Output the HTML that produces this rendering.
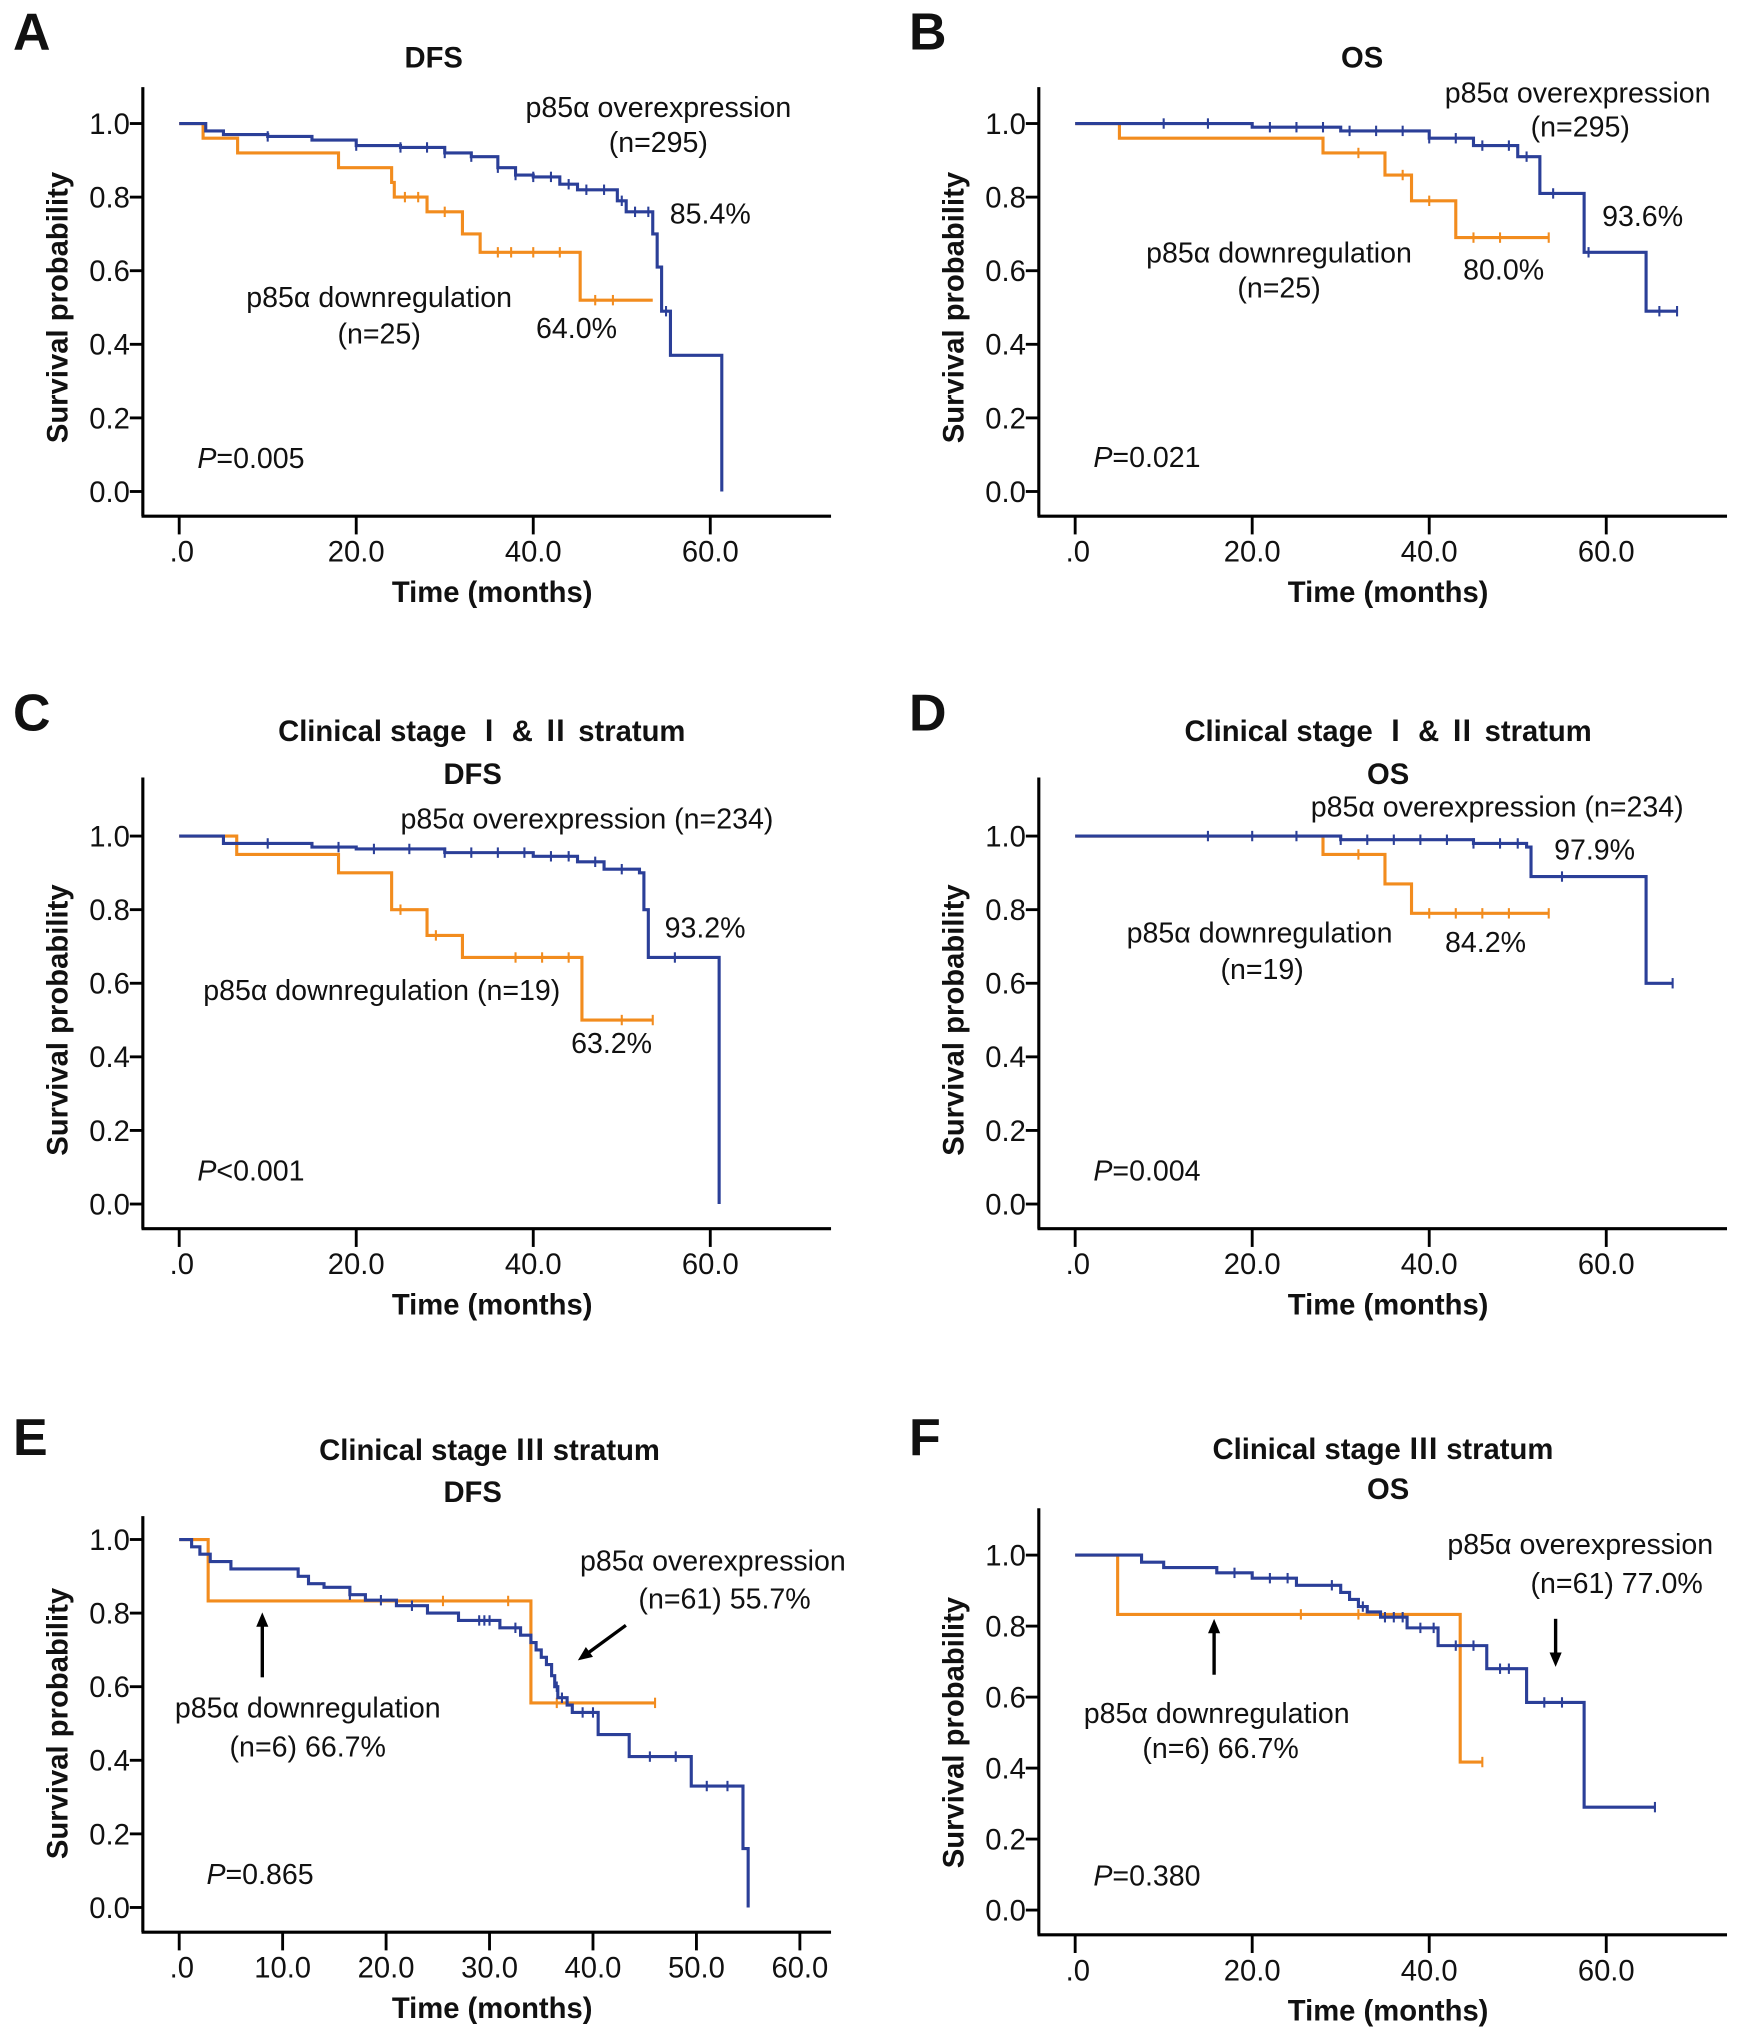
<!DOCTYPE html>
<html><head><meta charset="utf-8"><style>
html,body{margin:0;padding:0;background:#fff}
svg{display:block}
text{font-family:"Liberation Sans","Noto Sans CJK SC",sans-serif;fill:#111}
</style></head><body>
<svg id="fig" width="1740" height="2031" viewBox="0 0 1340 1562" preserveAspectRatio="none" xmlns="http://www.w3.org/2000/svg"></svg>
<script>
// ---- data: step curves [time, survival] ----
const aBlueT=[0,3,5,10,15,20,25,30,33,36,38,40,43,45,49.5,50.5,53.5,54,54.5,55.5,56,61.3];
const aBlueS=[1,0.98,0.97,0.965,0.955,0.94,0.935,0.92,0.91,0.88,0.86,0.855,0.835,0.82,0.79,0.76,0.70,0.61,0.49,0.37,0.37,0];
const aBlueCens=[10,20,25,28,30,33,36,38,40,42,44,46,48,50,51.5,53,55];
const aOrgT=[0,2.7,6.6,18,24,24.3,28,32,34,45.3,53.5];
const aOrgS=[1,0.96,0.92,0.88,0.84,0.80,0.76,0.70,0.65,0.52,0.52];
const aOrgCens=[25.5,27,30,36,37.5,40,43,47,49];

const bBlueT=[0,20,30,40,45,50,52.5,57.5,64.5,68];
const bBlueS=[1,0.99,0.98,0.96,0.94,0.91,0.81,0.65,0.49,0.49];
const bBlueCens=[10,15,22,25,28,31,34,37,40,43,46,49,51,54,58,66,68];
const bOrgT=[0,5,28,35,38,43,53.5];
const bOrgS=[1,0.96,0.92,0.86,0.79,0.69,0.69];
const bOrgCens=[32,37,40,45,48,53.5];

const cBlueT=[0,5,15,20,30,40,45,48,52,52.5,53,61];
const cBlueS=[1,0.98,0.97,0.965,0.955,0.945,0.93,0.91,0.90,0.80,0.67,0];
const cBlueCens=[10,18,22,26,30,33,36,39,42,44,47,50,56];
const cOrgT=[0,6.5,18,24,28,32,45.5,53.5];
const cOrgS=[1,0.95,0.90,0.80,0.73,0.67,0.50,0.50];
const cOrgCens=[25,29,38,41,44,50,53.5];

const dBlueT=[0,30,45,51,51.5,64.5,67.5];
const dBlueS=[1,0.99,0.98,0.97,0.89,0.60,0.60];
const dBlueCens=[15,20,25,30,33,36,39,42,45,48,50,55,67.5];
const dOrgT=[0,28,35,38,53.5];
const dOrgS=[1,0.95,0.87,0.79,0.79];
const dOrgCens=[32,40,43,46,49,53.5];

const eBlueT=[0,1.2,2,3,5,11.5,12.5,14,16.5,18,21,24,27,31,33,34,34.5,35,35.5,36,36.3,36.6,37.5,38,40.5,43.5,49.5,54.5,55];
const eBlueS=[1,0.98,0.96,0.94,0.92,0.90,0.88,0.87,0.85,0.835,0.82,0.80,0.78,0.76,0.74,0.72,0.70,0.68,0.66,0.63,0.60,0.57,0.55,0.53,0.47,0.41,0.33,0.16,0];
const eBlueCens=[16.5,19.5,22.5,29,29.5,30,32.5,36.5,37,39,40,45.5,48,51,53];
const eOrgT=[0,2.8,34,46];
const eOrgS=[1,0.833,0.556,0.556];
const eOrgCens=[25.5,31.8,36.5,46];

const fBlueT=[0,7.5,10,16,20,25,30,31,32,33,34.5,37.5,41,46.5,51,57.5,65.5];
const fBlueS=[1,0.98,0.965,0.95,0.935,0.915,0.895,0.875,0.855,0.84,0.825,0.795,0.745,0.68,0.585,0.29,0.29];
const fBlueCens=[18,22,24,29,32.5,35,36,37,39,40.5,43,45,48,49,53,55,65.5];
const fOrgT=[0,4.8,43.5,46];
const fOrgS=[1,0.833,0.417,0.417];
const fOrgCens=[25.5,32,46];

const yTicks=[0,0.2,0.4,0.6,0.8,1.0];
const yTickLabels=["0.0","0.2","0.4","0.6","0.8","1.0"];
const xTicks6=[0,20,40,60];
const xTickLabels6=[".0","20.0","40.0","60.0"];
const xTicks10=[0,10,20,30,40,50,60];
const xTickLabels10=[".0","10.0","20.0","30.0","40.0","50.0","60.0"];

const NS="http://www.w3.org/2000/svg";
const svg=document.getElementById('fig');
function mk(tag,attrs,parent,txt){const e=document.createElementNS(NS,tag);for(const k in attrs)e.setAttribute(k,attrs[k]);if(txt!==undefined)e.textContent=txt;(parent||svg).appendChild(e);return e;}
const BLUE="#2b3f98",ORG="#f28c1e";

function panel(p){
  const g=mk('g',{});
  
  
  const xs=t=>p.x0+(t/60)*(p.x60-p.x0);
  const ys=s=>p.y0+(p.y1-p.y0)*s;
  const ya=mk('line',{x1:p.ax,y1:p.yTop,x2:p.ax,y2:p.xAxisY,stroke:'#000','stroke-width':2.4},g);
  
  const xa=mk('line',{x1:p.ax-1,y1:p.xAxisY,x2:p.xEnd,y2:p.xAxisY,stroke:'#000','stroke-width':2.4},g);
  
  yTicks.forEach((v,i)=>{
    mk('line',{x1:p.ax-10,y1:ys(v),x2:p.ax,y2:ys(v),stroke:'#000','stroke-width':2.2},g);
    const t=mk('text',{x:p.ax-10,y:ys(v)+8,'text-anchor':'end','font-size':22.5},g,yTickLabels[i]);
    
  });
  p.xt.forEach((v,i)=>{
    mk('line',{x1:xs(v),y1:p.xAxisY,x2:xs(v),y2:p.xAxisY+14,stroke:'#000','stroke-width':2.2},g);
    const t=mk('text',{x:xs(v)+(i==0?2:0),y:p.xAxisY+35,'text-anchor':'middle','font-size':22.5},g,p.xl[i]);
    
  });
  const xt=mk('text',{x:(p.ax+p.xEnd)/2+4,y:p.xAxisY+66,'text-anchor':'middle','font-size':22.5,'font-weight':'bold'},g,'Time (months)');
  
  const cy=(p.y0+p.y1)/2;
  const yt=mk('text',{x:p.ax-58,y:cy,'text-anchor':'middle','font-size':22.5,'font-weight':'bold',transform:`rotate(-90 ${p.ax-58} ${cy})`},g,'Survival probability');
  
  const L=mk('text',{x:p.ax-100,y:p.letterY,'font-size':40,'font-weight':'bold'},g,p.id);
  
  p.titles.forEach(tt=>{
    const e=mk('text',{x:tt[0],y:tt[1],'text-anchor':'middle','font-size':22.5,'font-weight':'bold'},g,tt[2]);
    
  });
  [[p.oT,p.oS,p.oC,ORG,'downregulation-curve'],[p.bT,p.bS,p.bC,BLUE,'overexpression-curve']].forEach(c=>{
    const T=c[0],S=c[1];
    let d=`M${xs(T[0])},${ys(S[0])}`;
    for(let i=1;i<T.length;i++){d+=` H${xs(T[i])} V${ys(S[i])}`;}
    const path=mk('path',{d:d,fill:'none',stroke:c[3],'stroke-width':2.4},g);
    
    const sAt=t=>{let s=S[0];for(let i=0;i<T.length;i++){if(T[i]<=t)s=S[i];}return s;};
    c[2].forEach(t=>{
      const m=mk('line',{x1:xs(t),x2:xs(t),y1:ys(sAt(t))-4,y2:ys(sAt(t))+4,stroke:c[3],'stroke-width':1.6},g);
      
    });
  });
  p.notes.forEach(n=>{
    const e=mk('text',{x:n[0],y:n[1],'text-anchor':n[3]||'middle','font-size':22},g);
    if(n[2].startsWith('P')){mk('tspan',{'font-style':'italic'},e,'P');mk('tspan',{},e,n[2].slice(1));}
    else e.textContent=n[2];
    
  });
  (p.arrows||[]).forEach(a=>{
    const [x1,y1,x2,y2]=a;
    const ang=Math.atan2(y2-y1,x2-x1),h=12,w=0.4;
    const ar=mk('g',{},g);
    
    mk('line',{x1,y1,x2:x2-Math.cos(ang)*6,y2:y2-Math.sin(ang)*6,stroke:'#000','stroke-width':2.6},ar);
    mk('polygon',{points:`${x2},${y2} ${x2-h*Math.cos(ang-w)},${y2-h*Math.sin(ang-w)} ${x2-h*Math.cos(ang+w)},${y2-h*Math.sin(ang+w)}`,fill:'#000'},ar);
  });
}

const L={ax:110,x0:138,x60:547,xEnd:640};
const R={ax:800,x0:828,x60:1237,xEnd:1330};
panel({id:'A',...L,yTop:67,y1:95,y0:378,xAxisY:397,letterY:38,xt:xTicks6,xl:xTickLabels6,
 titles:[[334,52,'DFS']],bT:aBlueT,bS:aBlueS,bC:aBlueCens,oT:aOrgT,oS:aOrgS,oC:aOrgCens,
 notes:[[507,90,'p85α overexpression'],[507,117,'(n=295)'],[547,172,'85.4%'],[292,236,'p85α downregulation'],[292,264,'(n=25)'],[444,260,'64.0%'],[152,360,'P=0.005','start']]});
panel({id:'B',...R,yTop:67,y1:95,y0:378,xAxisY:397,letterY:38,xt:xTicks6,xl:xTickLabels6,
 titles:[[1049,52,'OS']],bT:bBlueT,bS:bBlueS,bC:bBlueCens,oT:bOrgT,oS:bOrgS,oC:bOrgCens,
 notes:[[1215,79,'p85α overexpression'],[1217,105,'(n=295)'],[1265,174,'93.6%'],[985,202,'p85α downregulation'],[985,229,'(n=25)'],[1158,215,'80.0%'],[842,359,'P=0.021','start']]});
panel({id:'C',...L,yTop:598,y1:643,y0:926,xAxisY:945,letterY:562,xt:xTicks6,xl:xTickLabels6,
 titles:[[371,570,'Clinical stage Ⅰ & Ⅱ stratum'],[364,603,'DFS']],bT:cBlueT,bS:cBlueS,bC:cBlueCens,oT:cOrgT,oS:cOrgS,oC:cOrgCens,
 notes:[[452,637,'p85α overexpression (n=234)'],[543,721,'93.2%'],[294,769,'p85α downregulation (n=19)'],[471,810,'63.2%'],[152,908,'P<0.001','start']]});
panel({id:'D',...R,yTop:598,y1:643,y0:926,xAxisY:945,letterY:562,xt:xTicks6,xl:xTickLabels6,
 titles:[[1069,570,'Clinical stage Ⅰ & Ⅱ stratum'],[1069,603,'OS']],bT:dBlueT,bS:dBlueS,bC:dBlueCens,oT:dOrgT,oS:dOrgS,oC:dOrgCens,
 notes:[[1153,628,'p85α overexpression (n=234)'],[1228,661,'97.9%'],[970,725,'p85α downregulation'],[972,753,'(n=19)'],[1144,732,'84.2%'],[842,908,'P=0.004','start']]});
panel({id:'E',...L,x60:616,yTop:1166,y1:1184,y0:1467,xAxisY:1486,letterY:1119,xt:xTicks10,xl:xTickLabels10,
 titles:[[377,1123,'Clinical stage Ⅲ stratum'],[364,1155,'DFS']],bT:eBlueT,bS:eBlueS,bC:eBlueCens,oT:eOrgT,oS:eOrgS,oC:eOrgCens,
 notes:[[549,1208,'p85α overexpression'],[558,1237,'(n=61) 55.7%'],[237,1321,'p85α downregulation'],[237,1351,'(n=6) 66.7%'],[159,1449,'P=0.865','start']],
 arrows:[[202,1290,202,1240],[482,1250,445,1277]]});
panel({id:'F',...R,yTop:1160,y1:1196,y0:1469,xAxisY:1488,letterY:1119,xt:xTicks6,xl:xTickLabels6,
 titles:[[1065,1122,'Clinical stage Ⅲ stratum'],[1069,1153,'OS']],bT:fBlueT,bS:fBlueS,bC:fBlueCens,oT:fOrgT,oS:fOrgS,oC:fOrgCens,
 notes:[[1217,1195,'p85α overexpression'],[1245,1225,'(n=61) 77.0%'],[937,1325,'p85α downregulation'],[940,1352,'(n=6) 66.7%'],[842,1450,'P=0.380','start']],
 arrows:[[935,1288,935,1245],[1198,1245,1198,1282]]});
</script>
</body></html>
